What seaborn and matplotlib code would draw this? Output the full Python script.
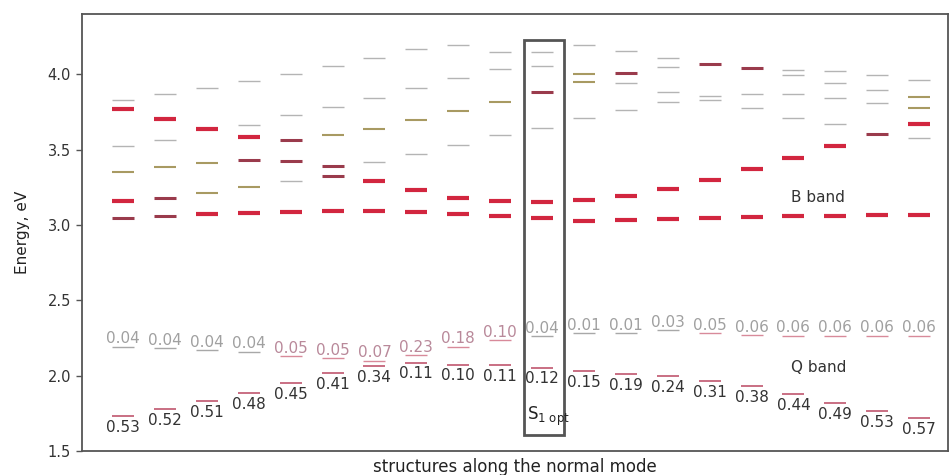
import matplotlib
matplotlib.use("Agg")
import matplotlib.pyplot as plt
import seaborn as sns
import pandas as pd
from matplotlib.patches import Rectangle

# ---------------- data ----------------
structures = list(range(20))
s1_opt_index = 10

# excited-state levels above the Q band: column, energy (eV), line kind
# kinds: 'w' weak (thin grey), 'o' weak-medium (olive), 'm' medium (dark red), 's' strong (red)
level_col = [0, 0, 0, 0, 0, 0,
             1, 1, 1, 1, 1, 1,
             2, 2, 2, 2, 2,
             3, 3, 3, 3, 3, 3,
             4, 4, 4, 4, 4, 4,
             5, 5, 5, 5, 5, 5,
             6, 6, 6, 6, 6, 6,
             7, 7, 7, 7, 7, 7,
             8, 8, 8, 8, 8, 8,
             9, 9, 9, 9, 9, 9,
             10, 10, 10, 10, 10, 10,
             11, 11, 11, 11, 11, 11,
             12, 12, 12, 12, 12, 12,
             13, 13, 13, 13, 13, 13,
             14, 14, 14, 14, 14,
             15, 15, 15, 15, 15,
             16, 16, 16, 16, 16, 16,
             17, 17, 17, 17, 17, 17,
             18, 18, 18, 18, 18,
             19, 19, 19, 19, 19, 19]
level_energy = [3.832, 3.768, 3.523, 3.352, 3.160, 3.043,
                3.872, 3.706, 3.567, 3.385, 3.182, 3.060,
                3.912, 3.640, 3.412, 3.213, 3.072,
                3.954, 3.662, 3.585, 3.434, 3.249, 3.080,
                4.004, 3.728, 3.567, 3.423, 3.293, 3.087,
                4.053, 3.783, 3.595, 3.392, 3.324, 3.092,
                4.110, 3.845, 3.640, 3.419, 3.290, 3.092,
                4.166, 3.912, 3.695, 3.474, 3.229, 3.085,
                4.192, 3.978, 3.755, 3.529, 3.180, 3.076,
                4.148, 4.038, 3.816, 3.595, 3.158, 3.058,
                4.148, 4.053, 3.883, 3.644, 3.153, 3.043,
                4.192, 4.000, 3.949, 3.713, 3.167, 3.027,
                4.155, 4.009, 3.945, 3.766, 3.193, 3.032,
                4.110, 4.049, 3.883, 3.816, 3.237, 3.041,
                4.066, 3.856, 3.828, 3.297, 3.047,
                4.044, 3.872, 3.777, 3.370, 3.052,
                4.031, 3.998, 3.867, 3.713, 3.447, 3.058,
                4.020, 3.945, 3.845, 3.668, 3.523, 3.058,
                3.993, 3.898, 3.812, 3.602, 3.065,
                3.965, 3.850, 3.777, 3.673, 3.574, 3.065]
level_kind = ['w', 's', 'w', 'o', 's', 'm',
              'w', 's', 'w', 'o', 'm', 'm',
              'w', 's', 'o', 'o', 's',
              'w', 'w', 's', 'm', 'o', 's',
              'w', 'w', 'm', 'm', 'w', 's',
              'w', 'w', 'o', 'm', 'm', 's',
              'w', 'w', 'o', 'w', 's', 's',
              'w', 'w', 'o', 'w', 's', 's',
              'w', 'w', 'o', 'w', 's', 's',
              'w', 'w', 'o', 'w', 's', 's',
              'w', 'w', 'm', 'w', 's', 's',
              'w', 'o', 'o', 'w', 's', 's',
              'w', 'm', 'w', 'w', 's', 's',
              'w', 'w', 'w', 'w', 's', 's',
              'm', 'w', 'w', 's', 's',
              'm', 'w', 'w', 's', 's',
              'w', 'w', 'w', 'w', 's', 's',
              'w', 'w', 'w', 'w', 's', 's',
              'w', 'w', 'w', 'm', 's',
              'w', 'o', 'o', 's', 'w', 's']

# Q band: upper and lower states with oscillator strengths
q_upper_energy = [2.193, 2.183, 2.170, 2.160, 2.130, 2.117, 2.100, 2.135, 2.193, 2.236,
                  2.262, 2.282, 2.282, 2.300, 2.280, 2.268, 2.265, 2.265, 2.265, 2.265]
q_upper_f = ["0.04", "0.04", "0.04", "0.04", "0.05", "0.05", "0.07", "0.23", "0.18", "0.10",
             "0.04", "0.01", "0.01", "0.03", "0.05", "0.06", "0.06", "0.06", "0.06", "0.06"]
q_lower_energy = [1.732, 1.778, 1.832, 1.885, 1.950, 2.017, 2.065, 2.087, 2.073, 2.068,
                  2.054, 2.030, 2.010, 1.995, 1.964, 1.931, 1.878, 1.818, 1.765, 1.719]
q_lower_f = ["0.53", "0.52", "0.51", "0.48", "0.45", "0.41", "0.34", "0.11", "0.10", "0.11",
             "0.12", "0.15", "0.19", "0.24", "0.31", "0.38", "0.44", "0.49", "0.53", "0.57"]

# ---------------- style ----------------
sns.set_theme(style="white")
plt.rcParams["font.family"] = ["DejaVu Sans"]

kind_style = {
    "w": dict(color="#b4b4b4", lw=1.0),
    "o": dict(color="#a89a62", lw=1.5),
    "m": dict(color="#9a3b4c", lw=2.2),
    "s": dict(color="#d2263f", lw=3.0),
}
seg_s = 251  # marker '_' width ~22 px

fig = plt.figure(figsize=(9.5, 4.75), dpi=100)
ax = fig.add_axes([82 / 950, 24 / 475, 866 / 950, 437 / 475])

levels = pd.DataFrame({"x": level_col, "E": level_energy, "kind": level_kind})
for k in ["w", "o", "m", "s"]:
    sub = levels[levels["kind"] == k]
    sns.scatterplot(data=sub, x="x", y="E", marker="_", s=seg_s,
                    linewidth=kind_style[k]["lw"], color=kind_style[k]["color"],
                    ax=ax, legend=False, zorder=3)

qu = pd.DataFrame({"x": structures, "E": q_upper_energy, "f": [float(v) for v in q_upper_f]})
ql = pd.DataFrame({"x": structures, "E": q_lower_energy, "f": [float(v) for v in q_lower_f]})
qu_weak = qu[qu["f"] <= 0.04]
qu_pink = qu[qu["f"] > 0.04]
sns.scatterplot(data=qu_weak, x="x", y="E", marker="_", s=seg_s, linewidth=1.0,
                color="#a8a8a8", ax=ax, legend=False, zorder=3)
sns.scatterplot(data=qu_pink, x="x", y="E", marker="_", s=seg_s, linewidth=1.0,
                color="#d88a9a", ax=ax, legend=False, zorder=3)
sns.scatterplot(data=ql, x="x", y="E", marker="_", s=seg_s, linewidth=1.2,
                color="#c0566e", ax=ax, legend=False, zorder=3)

for i in structures:
    fu = float(q_upper_f[i])
    col_u = "#b9899a" if (fu > 0.04 and i < s1_opt_index) else "#a0a0a0"
    ax.text(i, q_upper_energy[i] + 0.022, q_upper_f[i], ha="center", va="baseline",
            fontsize=11, color=col_u, zorder=4)
    ax.text(i, q_lower_energy[i] - 0.105, q_lower_f[i], ha="center", va="baseline",
            fontsize=11, color="#333333", zorder=4)

# S1 opt box
ax.add_patch(Rectangle((9.57, 1.606), 0.96, 2.619, fill=False, edgecolor="#555555",
                       linewidth=2.0, zorder=5))
ax.text(9.64, 1.73, r"S$_\mathregular{1\ opt}$", ha="left", va="center",
        fontsize=12, color="#222222", zorder=6)

ax.text(15.95, 3.18, "B band", ha="left", va="center", fontsize=11, color="#333333")
ax.text(15.95, 2.054, "Q band", ha="left", va="center", fontsize=11, color="#333333")

ax.set_xlim(-0.98, 19.69)
ax.set_ylim(1.5, 4.4)
ax.set_xticks([])
ax.set_yticks([1.5, 2.0, 2.5, 3.0, 3.5, 4.0])
ax.set_yticklabels(["1.5", "2.0", "2.5", "3.0", "3.5", "4.0"])
ax.tick_params(axis="y", left=True, length=4, width=1, color="#555555",
               labelsize=10.5, labelcolor="#333333", pad=4)
for sp in ax.spines.values():
    sp.set_color("#555555")
    sp.set_linewidth(1.3)

ax.set_xlabel("structures along the normal mode", fontsize=12, color="#222222")
ax.set_ylabel("Energy, eV", fontsize=11, color="#222222")
ax.xaxis.set_label_coords(0.5, -0.016)
ax.yaxis.set_label_coords(-0.060, 0.5)

fig.savefig("out.png", dpi=100)
